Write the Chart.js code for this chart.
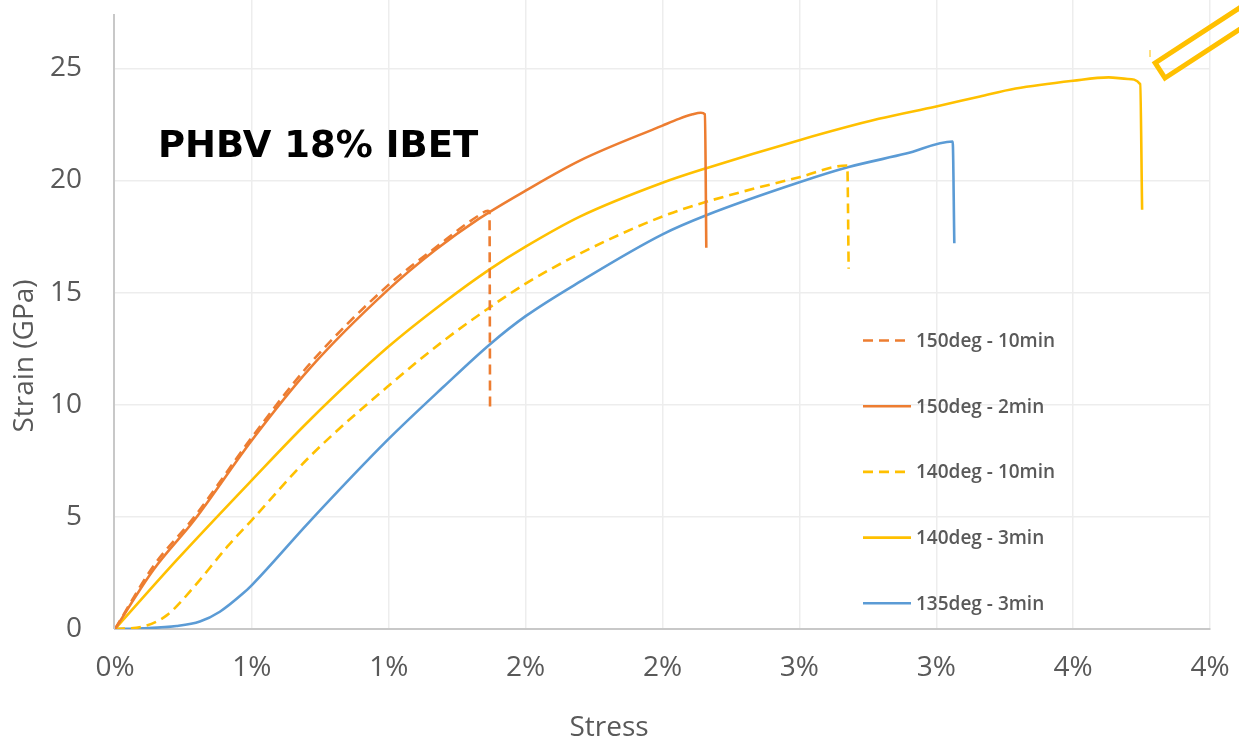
<!DOCTYPE html>
<html>
<head>
<meta charset="utf-8">
<script src="https://cdn.jsdelivr.net/npm/chart.js@4"></script>
<style>
  html, body { margin: 0; padding: 0; background: #fff; overflow: hidden; }
  #wrap { width: 1239px; height: 743px; }
</style>
</head>
<body>
<div id="wrap"><canvas id="stressChart"></canvas></div>
<script>
// series names, in legend order
const seriesLabels = ['150deg - 10min', '150deg - 2min', '140deg - 10min', '140deg - 3min', '135deg - 3min'];
const seriesColors = ['#ED7D31', '#ED7D31', '#FFC000', '#FFC000', '#5B9BD5'];
const seriesDashed = [true, false, true, false, false];

// 150deg - 10min (dashed orange)
const x150_10 = [0, 0.0014, 0.0029, 0.005, 0.0071, 0.00995, 0.0117, 0.0133, 0.01362, 0.01368, 0.01370];
const y150_10 = [0, 2.8, 5.0, 8.55, 11.8, 15.3, 17.0, 18.45, 18.65, 18.6, 9.9];

// 150deg - 2min (solid orange)
const x150_2 = [0, 0.0014, 0.0029, 0.005, 0.0071, 0.00995, 0.0117, 0.0133, 0.015, 0.017, 0.02, 0.0206, 0.0211, 0.0214, 0.02155, 0.0216];
const y150_2 = [0, 2.63, 4.86, 8.42, 11.6, 15.1, 16.9, 18.3, 19.55, 20.9, 22.45, 22.75, 22.95, 23.02, 22.95, 17.0];

// 140deg - 10min (dashed yellow)
const x140_10 = [0, 0.001, 0.0019, 0.0029, 0.0041, 0.005, 0.0071, 0.00995, 0.012, 0.0137, 0.015, 0.017, 0.02, 0.0216, 0.025, 0.02675, 0.0268];
const y140_10 = [0, 0.1, 0.62, 1.9, 3.67, 4.86, 7.67, 10.8, 12.85, 14.35, 15.4, 16.75, 18.4, 19.05, 20.15, 20.67, 16.07];

// 140deg - 3min (solid yellow)
const x140_3 = [0, 0.00225, 0.005, 0.0071, 0.00995, 0.012, 0.0137, 0.015, 0.017, 0.02, 0.0216, 0.025, 0.0279, 0.03, 0.0316, 0.0329, 0.035, 0.0363, 0.037, 0.03745, 0.03752];
const y140_3 = [0, 3.07, 6.64, 9.3, 12.55, 14.55, 16.05, 17.05, 18.4, 19.9, 20.55, 21.8, 22.75, 23.3, 23.75, 24.1, 24.45, 24.6, 24.53, 24.3, 18.7];

// 135deg - 3min (blue)
const x135_3 = [0, 0.001, 0.00225, 0.0031, 0.00383, 0.00468, 0.005, 0.0071, 0.00995, 0.012, 0.0137, 0.015, 0.017, 0.02, 0.0216, 0.025, 0.0268, 0.0289, 0.0306, 0.03066];
const y135_3 = [0, 0.03, 0.13, 0.33, 0.77, 1.59, 1.96, 4.78, 8.42, 10.8, 12.7, 13.95, 15.5, 17.6, 18.45, 19.92, 20.6, 21.2, 21.74, 17.2];

// axis ticks (labels as Excel rounded them)
const xTickLabels = ['0%', '1%', '1%', '2%', '2%', '3%', '3%', '4%', '4%'];
const yTickValues = [0, 5, 10, 15, 20, 25];

const chartTitle = 'PHBV 18% IBET';
const xTitle = 'Stress';
const yTitle = 'Strain (GPa)';

const seriesX = [x150_10, x150_2, x140_10, x140_3, x135_3];
const seriesY = [y150_10, y150_2, y140_10, y140_3, y135_3];

function toPoints(xs, ys) {
  return xs.map((x, i) => ({ x: x, y: ys[i] }));
}

const datasets = seriesLabels.map((name, i) => ({
  label: name,
  data: toPoints(seriesX[i], seriesY[i]),
  borderColor: seriesColors[i],
  backgroundColor: seriesColors[i],
  borderWidth: 2.6,
  borderDash: seriesDashed[i] ? [10, 6] : [],
  pointRadius: 0,
  showLine: true,
  cubicInterpolationMode: 'monotone',
  fill: false
}));

const tickColor = '#595959';
const tickFont = { family: 'Open Sans', size: 28 };

// legend, titles, left axis line and the yellow callout shape
const extras = {
  id: 'extras',
  afterDraw(chart) {
    const ctx = chart.ctx;
    const area = chart.chartArea;
    ctx.save();

    // left axis line
    ctx.strokeStyle = '#C8C8C8';
    ctx.lineWidth = 2;
    ctx.beginPath();
    ctx.moveTo(area.left - 1, 14);
    ctx.lineTo(area.left - 1, area.bottom);
    ctx.stroke();

    // title inside plot
    ctx.fillStyle = '#000';
    ctx.font = 'bold 37px "DejaVu Sans"';
    ctx.textAlign = 'left';
    ctx.textBaseline = 'alphabetic';
    ctx.fillText(chartTitle, 158, 157);

    // axis titles
    ctx.fillStyle = tickColor;
    ctx.font = '28px "Open Sans"';
    ctx.textAlign = 'center';
    ctx.textBaseline = 'middle';
    ctx.fillText(xTitle, 609, 728);
    ctx.save();
    ctx.translate(25, 356);
    ctx.rotate(-Math.PI / 2);
    ctx.fillText(yTitle, 0, 0);
    ctx.restore();

    // legend
    ctx.font = '600 19px "Open Sans"';
    ctx.textAlign = 'left';
    chart.data.datasets.forEach((ds, i) => {
      const yy = 340.5 + i * 65.7;
      ctx.strokeStyle = ds.borderColor;
      ctx.lineWidth = 2.6;
      ctx.setLineDash(ds.borderDash);
      ctx.beginPath();
      ctx.moveTo(863, yy);
      ctx.lineTo(911, yy);
      ctx.stroke();
      ctx.setLineDash([]);
      ctx.fillStyle = tickColor;
      ctx.fillText(ds.label, 916, yy + 1);
    });

    // yellow callout shape at top right
    ctx.strokeStyle = '#FFC000';
    ctx.lineWidth = 5;
    const dx = 0.838, dy = -0.546;
    const px = -0.546, py = -0.838;
    const x0 = 1165, y0 = 78;
    const len = 160, wid = 18;
    ctx.beginPath();
    ctx.moveTo(x0, y0);
    ctx.lineTo(x0 + dx * len, y0 + dy * len);
    ctx.lineTo(x0 + dx * len + px * wid, y0 + dy * len + py * wid);
    ctx.lineTo(x0 + px * wid, y0 + py * wid);
    ctx.closePath();
    ctx.stroke();
    ctx.lineWidth = 1;
    ctx.beginPath();
    ctx.moveTo(1150, 50);
    ctx.lineTo(1150, 57);
    ctx.stroke();

    ctx.restore();
  }
};

const ctx = document.getElementById('stressChart');

const stressChart = new Chart(ctx, {
  type: 'scatter',
  data: { datasets: datasets },
  options: {
    responsive: true,
    maintainAspectRatio: false,
    animation: false,
    layout: { padding: { left: 0, right: 29, top: 0, bottom: 0 } },
    plugins: {
      legend: { display: false },
      tooltip: { enabled: false },
      title: { display: false }
    },
    scales: {
      x: {
        type: 'linear',
        min: 0,
        max: 0.04,
        afterFit(scale) {
          scale.height = 114;
          scale.paddingLeft = 0;
          scale.paddingRight = 0;
        },
        border: { display: true, color: '#C8C8C8', width: 2 },
        grid: {
          color: (c) => c.index === 0 ? 'rgba(0,0,0,0)' : '#EDEDED',
          lineWidth: 1.5,
          drawTicks: false
        },
        ticks: {
          stepSize: 0.005,
          color: tickColor,
          font: tickFont,
          padding: 22,
          maxRotation: 0,
          autoSkip: false,
          callback: (v, i) => xTickLabels[i]
        }
      },
      y: {
        type: 'linear',
        min: 0,
        max: 28.05,
        afterFit(scale) {
          scale.width = 115;
          scale.paddingTop = 0;
          scale.paddingBottom = 0;
        },
        afterBuildTicks(scale) {
          scale.ticks = yTickValues.map(v => ({ value: v }));
        },
        border: { display: false },
        grid: {
          color: '#EDEDED',
          lineWidth: 1.5,
          drawTicks: false
        },
        ticks: {
          color: tickColor,
          font: tickFont,
          padding: 33
        }
      }
    }
  },
  plugins: [extras]
});
</script>
</body>
</html>
